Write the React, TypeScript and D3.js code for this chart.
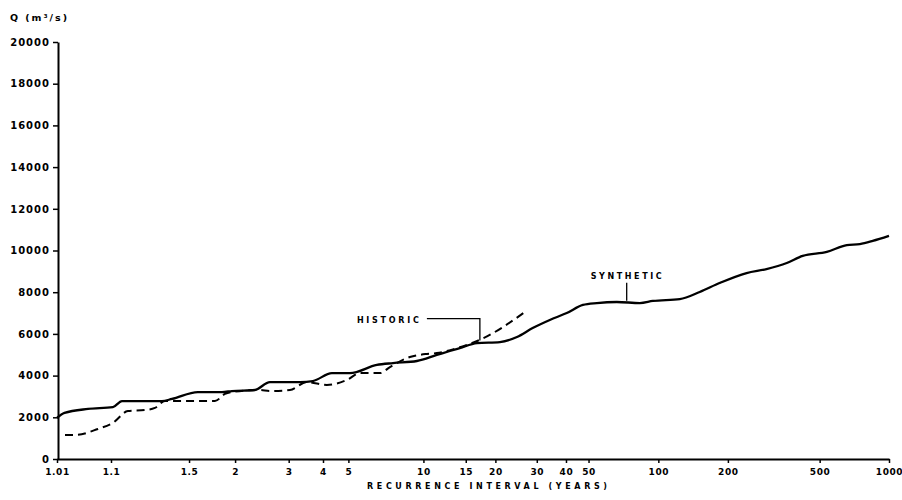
import React, { useEffect, useRef } from "react";
import * as d3 from "d3";

// recurrence interval (years) and discharge (m3/s)
const syntheticT = [1.01, 1.015, 1.044, 1.105, 1.132, 1.31, 1.373, 1.577, 1.83, 1.957, 2.306, 2.585, 2.864, 3.289, 3.67, 4.321, 5.068, 6.47, 7.51, 9.4, 11.36, 12.87, 14.16, 16.72, 20.9, 24.7, 28.8, 34.1, 40.3, 47.3, 54.3, 66.2, 83.2, 94.7, 123.8, 151, 184, 241, 294, 360, 422, 537, 656, 747, 850, 1000];
const syntheticQ = [1970, 2210, 2400, 2490, 2780, 2780, 2880, 3210, 3210, 3260, 3310, 3690, 3690, 3690, 3740, 4120, 4120, 4510, 4600, 4700, 4990, 5180, 5320, 5560, 5610, 5850, 6280, 6670, 7000, 7390, 7480, 7530, 7480, 7580, 7670, 8010, 8440, 8920, 9110, 9400, 9740, 9930, 10260, 10310, 10460, 10700];

const historicT = [1.0154, 1.025, 1.064, 1.105, 1.152, 1.222, 1.271, 1.328, 1.491, 1.749, 1.867, 1.957, 2.394, 2.585, 3.03, 3.488, 4.137, 4.933, 5.54, 6.66, 7.3, 8.8, 10.33, 11.36, 14.16, 17.54, 26.7];
const historicQ = [1150, 1150, 1440, 1730, 2300, 2350, 2450, 2780, 2780, 2780, 3120, 3210, 3310, 3260, 3310, 3690, 3550, 3790, 4120, 4120, 4410, 4890, 5040, 5080, 5360, 5760, 7050];

const xTicks = [1.01, 1.1, 1.5, 2, 3, 4, 5, 10, 15, 20, 30, 40, 50, 100, 200, 500, 1000];
const xTickLabels = ["1.01", "1.1", "1.5", "2", "3", "4", "5", "10", "15", "20", "30", "40", "50", "100", "200", "500", "1000"];
const yTicks = [0, 2000, 4000, 6000, 8000, 10000, 12000, 14000, 16000, 18000, 20000];

const FONT = "'DejaVu Sans', sans-serif";

// Gumbel reduced variate
const gumbel = (t: number) => -Math.log(-Math.log(1 - 1 / t));

const Chart = () => {
  const ref = useRef<SVGSVGElement | null>(null);

  useEffect(() => {
    const width = 902;
    const height = 500;
    const left = 57;
    const right = 889;
    const bottom = 459;
    const top = 42;

    const svg = d3.select(ref.current);
    svg.selectAll("*").remove();
    svg.attr("width", width).attr("height", height);

    svg.append("rect").attr("width", width).attr("height", height).attr("fill", "white");

    const x = d3.scaleLinear()
      .domain([gumbel(1.01), gumbel(1.1), gumbel(1000)])
      .range([left, left + 54, right]);
    const y = d3.scaleLinear().domain([0, 20000]).range([bottom, top]);

    // y axis
    const yAxis = svg.append("g")
      .attr("transform", `translate(${left + 1},0)`)
      .call(d3.axisLeft(y).tickValues(yTicks).tickSize(5).tickSizeOuter(0).tickPadding(3).tickFormat(d3.format("d")));
    yAxis.select(".domain").attr("stroke-width", 2);
    yAxis.selectAll(".tick line").attr("stroke-width", 1.5);
    yAxis.selectAll("text")
      .style("font-family", FONT)
      .style("font-size", "10px")
      .style("font-weight", "bold")
      .style("letter-spacing", "1px")
      .attr("fill", "black");

    // x axis
    const xAxis = svg.append("g")
      .attr("transform", `translate(0,${bottom})`)
      .call(d3.axisBottom(x).tickValues(xTicks.map(gumbel)).tickSize(4).tickSizeOuter(0).tickPadding(6)
        .tickFormat((d, i) => xTickLabels[i]));
    xAxis.select(".domain").attr("stroke-width", 2);
    xAxis.selectAll(".tick line").attr("stroke-width", 1.5);
    xAxis.selectAll("text")
      .style("font-family", FONT)
      .style("font-size", "9px")
      .style("font-weight", "bold")
      .style("letter-spacing", "0.6px")
      .attr("fill", "black");

    svg.append("text")
      .attr("x", 367)
      .attr("y", 489)
      .attr("textLength", 240)
      .attr("lengthAdjust", "spacing")
      .style("font-family", FONT)
      .style("font-size", "8px")
      .style("font-weight", "bold")
      .text("RECURRENCE  INTERVAL (YEARS)");

    svg.append("text")
      .attr("x", 10)
      .attr("y", 21)
      .attr("textLength", 57)
      .attr("lengthAdjust", "spacing")
      .style("font-family", FONT)
      .style("font-size", "9.5px")
      .style("font-weight", "bold")
      .text("Q (m³/s)");

    const line = d3.line<[number, number]>()
      .x(d => x(gumbel(d[0])))
      .y(d => y(d[1]))
      .curve(d3.curveMonotoneX);

    const synthetic = syntheticT.map((t, i) => [t, syntheticQ[i]] as [number, number]);
    const historic = historicT.map((t, i) => [t, historicQ[i]] as [number, number]);

    svg.append("path")
      .datum(historic)
      .attr("d", line)
      .attr("fill", "none")
      .attr("stroke", "black")
      .attr("stroke-width", 2)
      .attr("stroke-dasharray", "8,5");

    svg.append("path")
      .datum(synthetic)
      .attr("d", line)
      .attr("fill", "none")
      .attr("stroke", "black")
      .attr("stroke-width", 2.3)
      .attr("stroke-linejoin", "round");

    // labels with leader lines
    const hx = x(gumbel(17.2));
    const hy = y(5680);
    svg.append("path")
      .attr("d", `M${hx - 53},${hy - 22}H${hx}V${hy}`)
      .attr("fill", "none")
      .attr("stroke", "black")
      .attr("stroke-width", 1.3);
    svg.append("text")
      .attr("x", hx - 123)
      .attr("y", hy - 18)
      .attr("textLength", 62)
      .attr("lengthAdjust", "spacing")
      .style("font-family", FONT)
      .style("font-size", "8px")
      .style("font-weight", "bold")
      .text("HISTORIC");

    const sx = x(gumbel(73));
    const sy = y(7500);
    svg.append("line")
      .attr("x1", sx).attr("x2", sx)
      .attr("y1", sy - 2).attr("y2", sy - 20)
      .attr("stroke", "black")
      .attr("stroke-width", 1.3);
    svg.append("text")
      .attr("x", sx - 36)
      .attr("y", sy - 24)
      .attr("textLength", 71)
      .attr("lengthAdjust", "spacing")
      .style("font-family", FONT)
      .style("font-size", "8px")
      .style("font-weight", "bold")
      .text("SYNTHETIC");
  }, []);

  return <svg ref={ref} style={{ position: "absolute", left: 0, top: 0, display: "block" }} />;
};

export default function App() {
  return <Chart />;
}
